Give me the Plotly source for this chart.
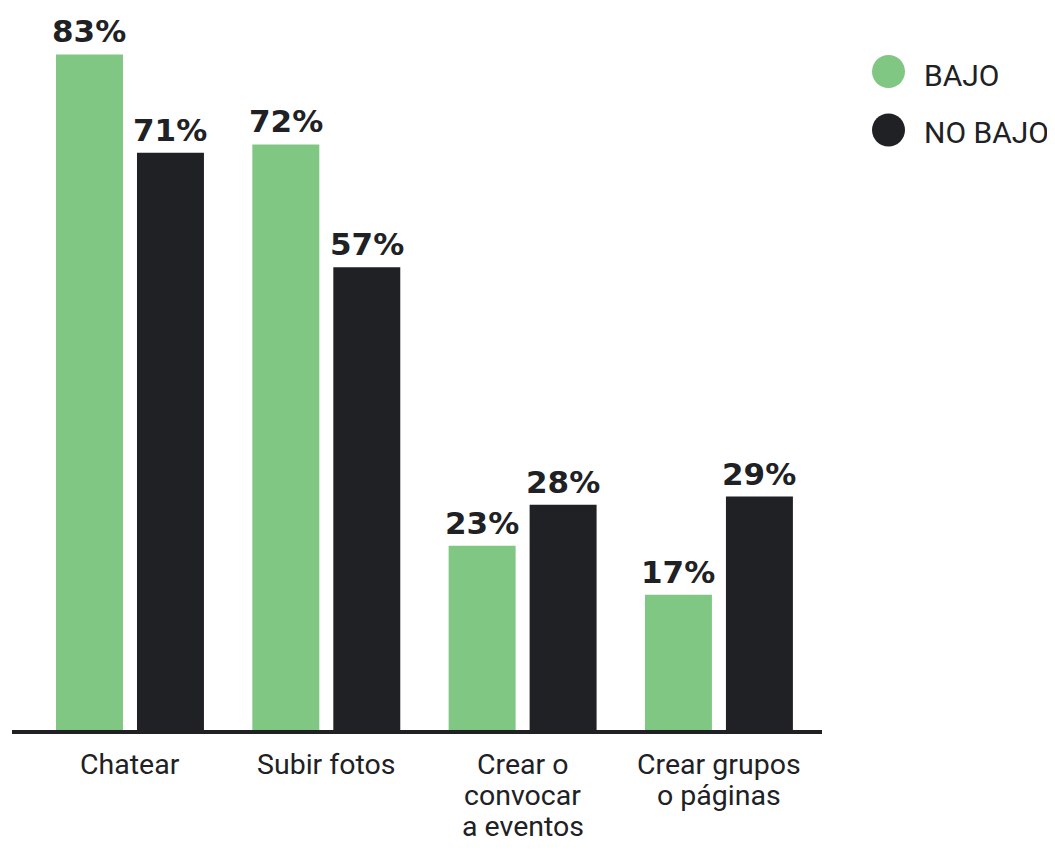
import plotly.graph_objects as go

categories = ["Chatear", "Subir fotos", "Crear o<br>convocar<br>a eventos", "Crear grupos<br>o páginas"]
series_names = ["BAJO", "NO BAJO"]
bajo = [83, 72, 23, 17]
no_bajo = [71, 57, 28, 29]
colors = ["#81C784", "#202124"]
text_color = "#202124"

fig = go.Figure()
annotations = []
for k, (name, vals, col) in enumerate(zip(series_names, [bajo, no_bajo], colors)):
    fig.add_trace(go.Bar(
        x=categories, y=vals, name=name, marker=dict(color=col, line=dict(width=0)),
        showlegend=False,
    ))
    # value labels above the bars
    for cat, v in zip(categories, vals):
        annotations.append(dict(
            x=cat, y=v, xref="x", yref="y", text=f"{v}%", showarrow=False,
            xanchor="center", yanchor="bottom", xshift=(-40.5 if k == 0 else 40.5), yshift=3,
            font=dict(family="DejaVu Sans", size=31, color=text_color, weight="bold"),
        ))

# category labels, one annotation per line for tight line spacing
for cat in categories:
    for i, line in enumerate(cat.split("<br>")):
        annotations.append(dict(
            x=cat, y=0, xref="x", yref="y", text=line, showarrow=False,
            xanchor="center", yanchor="top", yshift=-13 - 31 * i, borderpad=0,
            font=dict(family="Roboto", size=28.5, color=text_color),
        ))

# legend (manual, circular markers)
legend_y = [0.9279, 0.8459]
text_y = [0.9216, 0.843]
shapes = []
for name, col, cy, ty in zip(series_names, colors, legend_y, text_y):
    shapes.append(dict(type="circle", xref="paper", yref="paper", xsizemode="pixel", ysizemode="pixel",
                       xanchor=1.0821, yanchor=cy, x0=-16.5, x1=16.5, y0=-16.5, y1=16.5,
                       fillcolor=col, line=dict(width=0)))
    annotations.append(dict(x=1.1235, y=ty, xref="paper", yref="paper", text=name, showarrow=False,
                            xanchor="left", yanchor="middle",
                            font=dict(family="Roboto", size=30, color=text_color)))

# baseline
shapes.append(dict(type="line", xref="paper", yref="y", x0=0, x1=1, y0=0, y1=0,
                   line=dict(color=text_color, width=8)))

fig.update_layout(
    width=1047, height=838,
    margin=dict(l=4, r=233, t=12, b=112),
    paper_bgcolor="white", plot_bgcolor="white",
    barmode="group", bargap=0.175, bargroupgap=0.173,
    xaxis=dict(range=[-0.601, 3.525], showticklabels=False, showgrid=False, zeroline=False, showline=False,
               ticks=""),
    yaxis=dict(range=[0, 87.2], visible=False, showgrid=False, zeroline=False),
    annotations=annotations, shapes=shapes,
    showlegend=False,
)

fig.write_html("out.html")
